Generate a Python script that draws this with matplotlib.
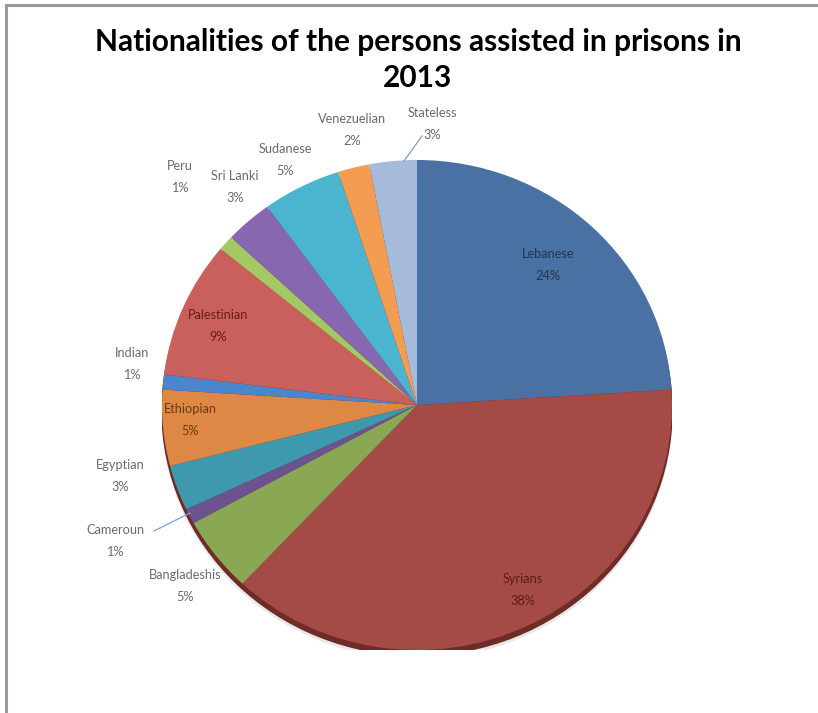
import matplotlib
matplotlib.use("Agg")
import matplotlib.pyplot as plt
from matplotlib.lines import Line2D
from matplotlib.patches import Circle

# ================= DATA =================
nationalities = ["Lebanese", "Syrians", "Bangladeshis", "Cameroun", "Egyptian",
                 "Ethiopian", "Indian", "Palestinian", "Peru", "Sri Lanki",
                 "Sudanese", "Venezuelian", "Stateless"]
shares = [24, 38, 5, 1, 3, 5, 1, 9, 1, 3, 5, 2, 3]

colors = ["#4a71a3", "#a54b47", "#8aa754", "#6d5290", "#3e98ae",
          "#dd8845", "#4a86cc", "#c9605b", "#a3c864", "#8768b0",
          "#4bb5cf", "#f49c52", "#a6bbd9"]

# label centre in pixels (x, y from top) and text colour
label_pos = [(548, 265), (523, 590), (185, 586), (115, 541), (120, 476),
             (190, 420), (132, 364), (218, 326), (180, 177), (235, 187),
             (285, 160), (352, 130), (432, 124)]
label_col = ["#1f3552", "#5a1d1a", "#6b6b6b", "#6b6b6b", "#6b6b6b",
             "#6a3a10", "#6b6b6b", "#6a1c1a", "#6b6b6b", "#6b6b6b",
             "#6b6b6b", "#6b6b6b", "#6b6b6b"]

W, H = 818, 713
plt.rcParams['font.family'] = ['Lato', 'DejaVu Sans']

fig = plt.figure(figsize=(W / 100, H / 100), dpi=100)
fig.patch.set_facecolor("white")


def fx(x):
    return x / W


def fy(y):
    return 1 - y / H


# ================= PIE =================
# slightly flattened pie, like the tilted Excel original
cx, cy, rx, ry = 417, 405, 255, 245
ax = fig.add_axes([fx(cx - rx), fy(cy + ry), 2 * rx / W, 2 * ry / H])

# dark rim / shadow under the pie
ax.add_patch(Circle((0.0, -0.035), 1.0, color="#e8e8e8", zorder=0))
ax.add_patch(Circle((0.0, -0.022), 1.0, color="#6e2b27", zorder=0.5))

ax.pie(shares, colors=colors, startangle=90, counterclock=False, radius=1.0,
       wedgeprops=dict(linewidth=0))
ax.set_xlim(-1, 1)
ax.set_ylim(-1, 1)
ax.set_aspect("auto")
ax.axis("off")

# ================= LABELS =================
for name, val, (lx, ly), c in zip(nationalities, shares, label_pos, label_col):
    fig.text(fx(lx), fy(ly), f"{name}\n{val}%", ha="center", va="center",
             fontsize=9.2, color=c, linespacing=2.0)

# leader lines
fig.add_artist(Line2D([fx(422), fx(404)], [fy(136), fy(161)],
                      color="#7f9fc8", lw=0.9))
fig.add_artist(Line2D([fx(154), fx(190)], [fy(531), fy(513)],
                      color="#7f9fc8", lw=0.9))

# ================= TITLE =================
fig.text(fx(418), fy(60), "Nationalities of the persons assisted in prisons in\n2013",
         ha="center", va="center", fontsize=21.5, fontweight="bold",
         color="#000000", linespacing=1.33)

# ================= FRAME =================
fig.add_artist(Line2D([fx(6), fx(818)], [fy(5), fy(5)], color="#9a9a9a", lw=2.2))
fig.add_artist(Line2D([fx(6), fx(6)], [fy(5), fy(713)], color="#9a9a9a", lw=2.2))

fig.savefig("out.png", dpi=100)
